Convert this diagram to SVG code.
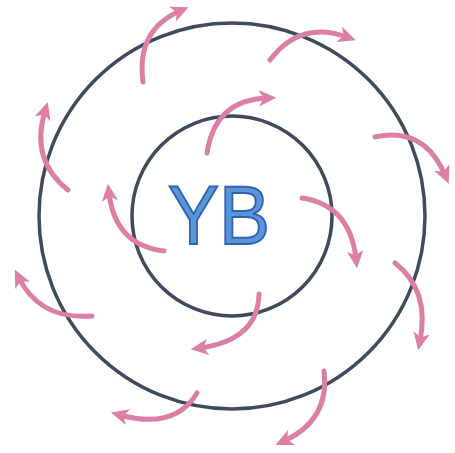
<svg xmlns="http://www.w3.org/2000/svg" width="455" height="453" viewBox="0 0 455 453">
<defs>
<marker id="ah" markerUnits="userSpaceOnUse" markerWidth="20" markerHeight="20" viewBox="-8 -8 17 16" refX="0" refY="0" orient="auto">
<path d="M8,0 L-7,-7 L-3,0 L-7,7 Z" fill="#dc7fa5"/>
</marker>
</defs>
<style>
.ring{fill:none;stroke:#3f4a5c;stroke-width:3.5}
.arr{fill:none;stroke:#dc7fa5;stroke-width:5;stroke-linecap:round;marker-end:url(#ah)}
.lbl{font-family:"Liberation Sans",Arial,sans-serif;font-size:84px;fill:#5b95d8;stroke:#2f63b5;stroke-width:2}
</style>
<rect width="455" height="453" fill="#ffffff"/>
<g id="outer-ring"><circle class="ring" cx="232" cy="216" r="193"/></g>
<g id="inner-ring"><circle class="ring" cx="232" cy="216" r="100"/></g>
<g id="center-label"><text class="lbl" x="168" y="244" textLength="102" lengthAdjust="spacingAndGlyphs">YB</text></g>
<g id="connectors">
<path class="arr" d="M143,82 Q136,30 180,11"/>
<path class="arr" d="M270,60 Q300,20 347,37"/>
<path class="arr" d="M375,137 Q424,126 445,175"/>
<path class="arr" d="M395,263 Q430,290 420,341"/>
<path class="arr" d="M324,371 Q330,420 284,441"/>
<path class="arr" d="M197,393 Q175,430 120,415"/>
<path class="arr" d="M92,316 Q40,320 19,278"/>
<path class="arr" d="M68,190 Q30,160 45,111"/>
<path class="arr" d="M207,153 Q215,100 267,98"/>
<path class="arr" d="M302,198 Q350,205 356,259"/>
<path class="arr" d="M259,294 Q258,340 200,348"/>
<path class="arr" d="M164,251 Q115,245 109,193"/>
</g>
</svg>
